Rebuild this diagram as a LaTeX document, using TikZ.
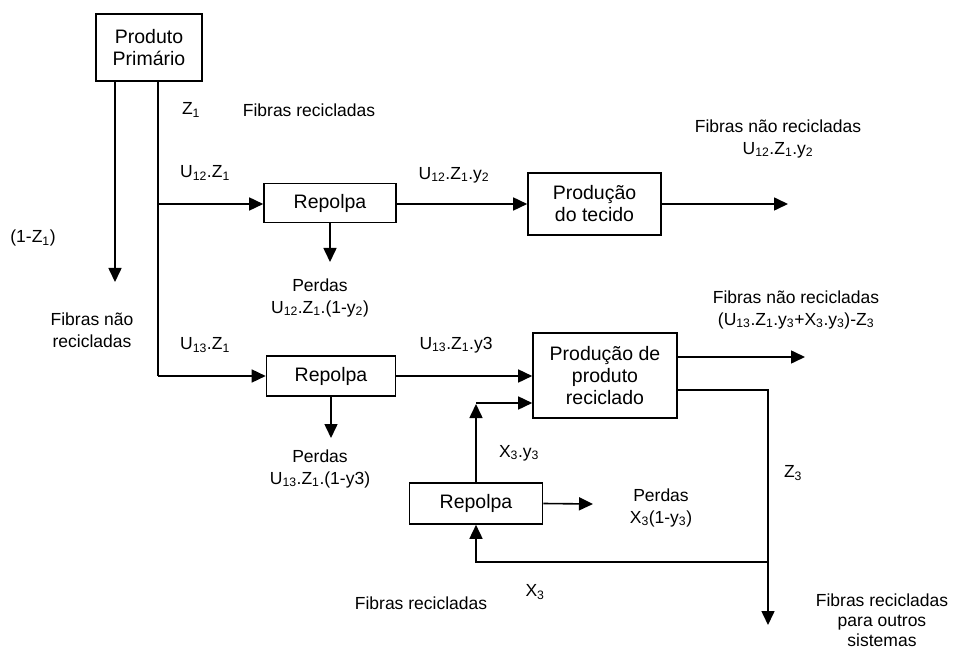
\documentclass[tikz,border=0pt]{standalone}
\usepackage{fontspec}
\setmainfont{Liberation Sans}
\usetikzlibrary{arrows.meta}
\newcommand{\subx}[1]{\textsubscript{#1}}
\begin{document}
\begin{tikzpicture}[x=1pt,y=-1pt,
  line width=1.6pt,
  arr/.style={-{Triangle[length=14pt,width=13pt]}},
  box/.style={draw,line width=1.6pt,inner sep=0pt,align=center,font=\fontsize{19.5}{22}\selectfont},
  lbl/.style={inner sep=0pt,align=center,font=\fontsize{17.5}{21.5}\selectfont}]
\useasboundingbox (0,0) rectangle (953,652);
% boxes
\node[box,minimum width=106pt,minimum height=67pt] (prod) at (149,47.5) {Produto\\Primário};
\node[box,minimum width=132pt,minimum height=39pt] (r1) at (330,203) {Repolpa};
\node[box,minimum width=133pt,minimum height=62pt] (tec) at (594.5,204) {Produção\\do tecido};
\node[box,minimum width=129pt,minimum height=40pt] (r2) at (331,376) {Repolpa};
\node[box,minimum width=144pt,minimum height=85pt] (rec) at (605,375.5) {Produção de\\produto\\reciclado};
\node[box,minimum width=133pt,minimum height=41pt] (r3) at (476,503.5) {Repolpa};
% coordinates
\coordinate (a1) at (115,282);
\coordinate (j1) at (158,204);
\coordinate (j2) at (158,376);
\coordinate (l1) at (330,262);
\coordinate (l2) at (331,438);
\coordinate (o1) at (788,204);
\coordinate (o2) at (805,357);
\coordinate (k1) at (768,390);
\coordinate (k2) at (768,562);
\coordinate (o3) at (768,625);
\coordinate (k3) at (476,562);
\coordinate (u1) at (476,404);
\coordinate (u0) at (476,403);
\coordinate (l3) at (593,504);
% connectors
\draw[arr] (prod.south -| a1) -- (a1);
\draw (prod.south -| j1) -- (j2);
\draw[arr] (j1) -- (r1.west |- j1);
\draw[arr] (j2) -- (r2.west |- j2);
\draw[arr] (r1.south) -- (l1);
\draw[arr] (r1.east |- tec.west) -- (tec.west);
\draw[arr] (tec.east) -- (o1);
\draw[arr] (r2.south) -- (l2);
\draw[arr] (r2.east) -- (rec.west |- r2.east);
\draw[arr] (r3.north) -- (u1);
\draw[arr] (u0) -- (rec.west |- u0);
\draw[arr] (rec.east |- o2) -- (o2);
\draw (rec.east |- k1) -- (k1) -- (k2);
\draw[arr] (k2) -- (o3);
\draw[arr] (k2) -- (k3) -- (r3.south);
\draw[arr] (r3.east) -- (l3);
% labels
\node[lbl] (t1) at (191,110) {Z\subx{1}};
\node[lbl] (t2) at (309,110) {Fibras recicladas};
\node[lbl] (t3) at (205,173) {U\subx{12}.Z\subx{1}};
\node[lbl] (t4) at (454,175) {U\subx{12}.Z\subx{1}.y\subx{2}};
\node[lbl] (t5) at (778,139) {Fibras não recicladas\\U\subx{12}.Z\subx{1}.y\subx{2}};
\node[lbl] (t6) at (33,238) {(1-Z\subx{1})};
\node[lbl] (t7) at (320,298) {Perdas\\U\subx{12}.Z\subx{1}.(1-y\subx{2})};
\node[lbl] (t8) at (92,330) {Fibras não\\recicladas};
\node[lbl] (t9) at (205,345) {U\subx{13}.Z\subx{1}};
\node[lbl] (t10) at (456,345) {U\subx{13}.Z\subx{1}.y3};
\node[lbl] (t11) at (796,310) {Fibras não recicladas\\(U\subx{13}.Z\subx{1}.y\subx{3}+X\subx{3}.y\subx{3})-Z\subx{3}};
\node[lbl] (t12) at (320,469) {Perdas\\U\subx{13}.Z\subx{1}.(1-y3)};
\node[lbl] (t13) at (519,453) {X\subx{3}.y\subx{3}};
\node[lbl] (t14) at (661,508) {Perdas\\X\subx{3}(1-y\subx{3})};
\node[lbl] (t15) at (793,473) {Z\subx{3}};
\node[lbl] (t16) at (535,592) {X\subx{3}};
\node[lbl] (t17) at (421,603) {Fibras recicladas};
\node[lbl,font=\fontsize{17.5}{20}\selectfont] (t18) at (882,620) {Fibras recicladas\\para outros\\sistemas};
\end{tikzpicture}
\end{document}
